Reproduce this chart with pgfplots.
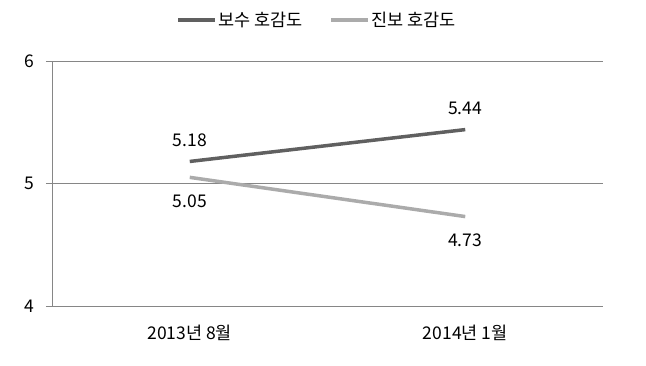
\documentclass[border=0pt]{standalone}
\usepackage{pgfplots}
\pgfplotsset{compat=1.18}
\usepackage{fontspec}
\setmainfont{Noto Sans CJK KR}
\definecolor{darkline}{HTML}{606060}
\definecolor{lightline}{HTML}{ABABAB}
\definecolor{axisgray}{HTML}{868686}
\begin{document}
\begin{tikzpicture}
\begin{axis}[
  scale only axis,
  width=551pt, height=245pt,
  xmin=-0.5, xmax=1.5,
  ymin=4, ymax=6,
  ytick={4,5,6},
  xtick={0,1},
  xticklabels={2013년 8월, 2014년 1월},
  major x tick style={draw=none},
  extra x ticks={-0.5,0.5,1.5},
  extra x tick labels={},
  extra x tick style={major tick length=6pt, tick style={axisgray, draw=axisgray}, tick align=outside, grid=none},
  ymajorgrids,
  grid style={axisgray, line width=0.8pt},
  axis x line*=bottom,
  axis y line*=left,
  axis line style={axisgray, line width=0.8pt, -},
  y tick style={axisgray, line width=0.8pt},
  tick align=outside,
  major tick length=6pt,
  font=\fontsize{17.5pt}{20pt}\selectfont,
  tick label style={font=\fontsize{17.5pt}{20pt}\selectfont, black},
  xticklabel style={yshift=-10pt},
  yticklabel style={xshift=-8pt},
  /pgf/number format/assume math mode=true,
  legend columns=2,
  legend style={draw=none, at={(0.48,1.167)}, anchor=center, font=\fontsize{17.5pt}{20pt}\selectfont,
    inner sep=0pt, nodes={inner sep=1pt},
    /tikz/every even column/.append style={column sep=26pt}},
  legend image code/.code={\draw[#1, line width=4pt] (0pt,0pt) -- (37pt,0pt);},
  nodes near coords,
  nodes near coords style={font=\fontsize{17.5pt}{20pt}\selectfont, black, /pgf/number format/fixed, /pgf/number format/fixed zerofill, /pgf/number format/precision=2},
]
\addplot[darkline, line width=3.5pt, nodes near coords style={anchor=south, yshift=10pt}] coordinates {(0,5.18) (1,5.44)};
\addlegendentry{보수 호감도}
\addplot[lightline, line width=3.5pt, nodes near coords style={anchor=north, yshift=-12pt}] coordinates {(0,5.05) (1,4.73)};
\addlegendentry{진보 호감도}
\end{axis}
\path (-52pt,-60pt) rectangle (594pt,306pt);
\end{tikzpicture}
\end{document}
